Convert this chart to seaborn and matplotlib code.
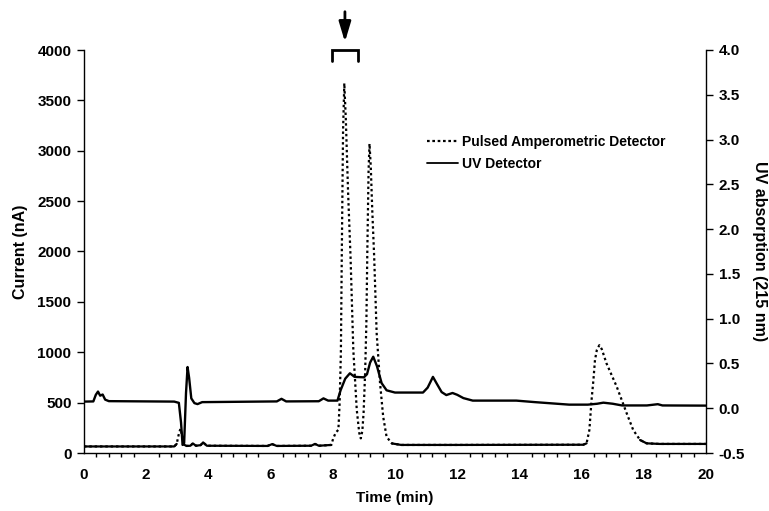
import numpy as np
import matplotlib
matplotlib.use("Agg")
import matplotlib.pyplot as plt
from matplotlib.lines import Line2D
from matplotlib.ticker import MultipleLocator
import seaborn as sns

# ---- data ----
pad_time = [0.0, 2.9, 2.98, 3.05, 3.1, 3.15, 3.2, 3.3, 3.42, 3.5, 3.6, 3.75, 3.83, 3.95,
            5.9, 6.05, 6.2, 7.3, 7.43, 7.55, 7.95, 8.02, 8.1, 8.18, 8.22, 8.26, 8.29,
            8.33, 8.37, 8.42, 8.49, 8.57, 8.66, 8.77, 8.85, 8.9, 8.95, 8.99, 9.04, 9.08,
            9.11, 9.15, 9.18, 9.22, 9.27, 9.33, 9.41, 9.52, 9.62, 9.73, 9.9, 10.2, 12.0,
            16.05, 16.16, 16.25, 16.32, 16.38, 16.43, 16.49, 16.57, 16.65, 16.8, 17.13,
            17.45, 17.66, 17.88, 18.09, 18.5, 20.0]
pad_current = [65, 65, 90, 190, 240, 180, 85, 70, 72, 95, 72, 78, 105, 72,
               70, 88, 70, 72, 90, 72, 80, 150, 205, 230, 500, 1000, 2000,
               3200, 3670, 3300, 2600, 1950, 1020, 430, 200, 145, 220, 400, 800, 1300,
               2000, 2800, 3070, 2850, 2400, 1950, 1190, 690, 360, 160, 95, 80, 80,
               82, 96, 228, 526, 725, 923, 1022, 1070, 1030, 890, 658,
               394, 228, 129, 96, 90, 90]

uv_time = [0.0, 0.3, 0.38, 0.45, 0.52, 0.6, 0.68, 0.8, 2.9, 3.05, 3.12, 3.17, 3.22,
           3.28, 3.33, 3.38, 3.45, 3.55, 3.65, 3.8, 6.2, 6.35, 6.5, 7.55, 7.7, 7.85,
           8.15, 8.25, 8.4, 8.55, 8.7, 9.0, 9.1, 9.2, 9.3, 9.42, 9.57, 9.73, 10.0,
           10.9, 11.05, 11.22, 11.35, 11.5, 11.65, 11.85, 12.0, 12.2, 12.5, 13.9,
           14.5, 15.6, 16.2, 16.5, 16.7, 17.0, 17.3, 18.1, 18.45, 18.6, 20.0]
uv_absorbance = [0.074, 0.076, 0.15, 0.186, 0.14, 0.153, 0.096, 0.079, 0.074, 0.06,
                 -0.16, -0.41, -0.39, 0.17, 0.46, 0.34, 0.11, 0.057, 0.046, 0.068,
                 0.076, 0.105, 0.076, 0.078, 0.11, 0.085, 0.085, 0.20, 0.33, 0.39,
                 0.35, 0.345, 0.38, 0.51, 0.575, 0.47, 0.28, 0.2, 0.175, 0.175, 0.23,
                 0.35, 0.27, 0.18, 0.147, 0.17, 0.15, 0.113, 0.085, 0.085, 0.068,
                 0.04, 0.04, 0.05, 0.062, 0.05, 0.031, 0.031, 0.045, 0.031, 0.029]

left_ticks = [0, 500, 1000, 1500, 2000, 2500, 3000, 3500, 4000]
right_ticks = [-0.5, 0.0, 0.5, 1.0, 1.5, 2.0, 2.5, 3.0, 3.5, 4.0]
x_ticks = [0, 2, 4, 6, 8, 10, 12, 14, 16, 18, 20]
legend_labels = ["Pulsed Amperometric Detector", "UV Detector"]

# ---- style ----
sns.set_theme(style="white")
plt.rcParams["font.family"] = ["Liberation Sans", "DejaVu Sans"]
plt.rcParams["font.weight"] = "bold"
plt.rcParams["axes.labelweight"] = "bold"

W, H = 769, 511
fig = plt.figure(figsize=(W / 100, H / 100), dpi=100)
ax = fig.add_axes([84 / W, 1 - 453 / H, (706 - 84) / W, (453 - 50) / H])
ax2 = ax.twinx()

pad = np.array(pad_current, dtype=float)
PAD_DASH = (0, (1.1, 1.3))

# PAD trace: dotted, baseline portions appear solid in the scan
sns.lineplot(x=pad_time, y=pad_current, ax=ax, color="black", lw=1.6,
             linestyle=PAD_DASH, estimator=None, sort=False)
ax.plot(pad_time, np.where(pad < 150, pad, np.nan), color="black", lw=1.6)

sns.lineplot(x=uv_time, y=uv_absorbance, ax=ax2, color="black", lw=1.7,
             estimator=None, sort=False)

ax.set_xlim(0, 20)
ax.set_ylim(0, 4000)
ax2.set_ylim(-0.5, 4.0)
ax.set_xticks(x_ticks)
ax.set_xticklabels([str(v) for v in x_ticks])
ax.xaxis.set_minor_locator(MultipleLocator(0.4))
ax.set_yticks(left_ticks)
ax.set_yticklabels([str(v) for v in left_ticks])
ax2.set_yticks(right_ticks)
ax2.set_yticklabels([f"{v:.1f}" for v in right_ticks])

for a in (ax, ax2):
    a.spines["top"].set_visible(False)
    for s in a.spines.values():
        s.set_color("black")
        s.set_linewidth(1.0)
ax.spines["right"].set_visible(False)
ax2.spines["left"].set_visible(False)
ax2.spines["bottom"].set_visible(False)

ax.tick_params(axis="both", which="major", direction="out", length=5, width=1,
               color="black", labelsize=11, labelcolor="black", pad=4)
ax.tick_params(axis="x", which="minor", direction="out", length=3, width=1,
               color="black", bottom=True)
ax.tick_params(axis="x", which="major", length=6, pad=5)
ax.tick_params(axis="y", which="both", left=True)
ax2.tick_params(axis="y", which="major", direction="out", length=5, width=1,
                color="black", labelsize=11, labelcolor="black", pad=4, right=True)

ax.set_xlabel("Time (min)", fontsize=11, color="black", labelpad=6)
ax.set_ylabel("Current (nA)", fontsize=11.5, color="black", labelpad=7)
ax2.set_ylabel("UV absorption (215 nm)", fontsize=11.5, color="black",
               rotation=270, labelpad=16)
for lbl in ax.get_xticklabels() + ax.get_yticklabels() + ax2.get_yticklabels():
    lbl.set_fontweight("bold")

# bracket and arrow marking the collected fraction
ax.plot([7.96, 7.96, 8.82, 8.82], [3890, 4000, 4000, 3890], color="black",
        lw=2.0, clip_on=False, solid_joinstyle="miter")
ax.annotate("", xy=(8.39, 4080), xytext=(8.39, 4380), annotation_clip=False,
            arrowprops=dict(arrowstyle="-|>,head_length=0.6,head_width=0.18",
                            color="black", lw=2.0, mutation_scale=20,
                            shrinkA=0, shrinkB=0))

handles = [Line2D([], [], color="black", lw=1.6, linestyle=(0, (1.2, 1.2))),
           Line2D([], [], color="black", lw=1.3)]
leg = fig.legend(handles, legend_labels, loc="upper left",
                 bbox_to_anchor=(427 / W, 1 - 135 / H), bbox_transform=fig.transFigure,
                 frameon=False, fontsize=10, handlelength=2.2, handletextpad=0.35,
                 labelspacing=0.55, borderpad=0, borderaxespad=0)
for t in leg.get_texts():
    t.set_fontweight("bold")
    t.set_color("black")

fig.savefig("out.png", dpi=100, facecolor="white")
